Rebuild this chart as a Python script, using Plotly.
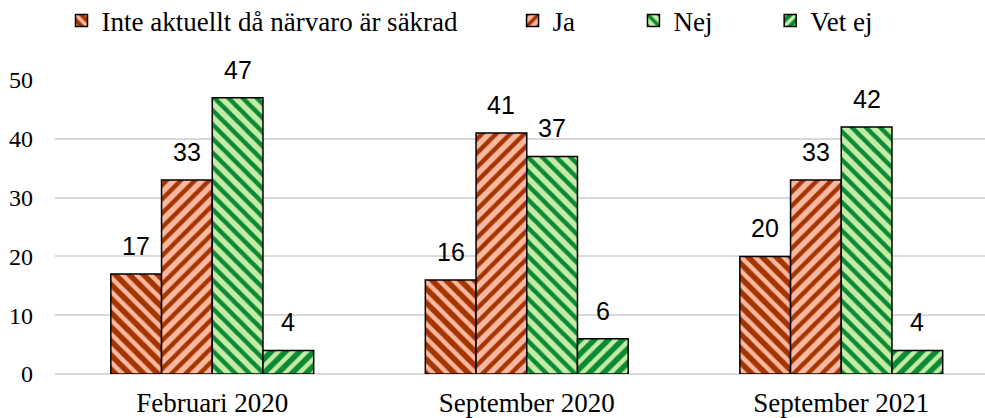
import plotly.graph_objects as go

categories = ["Februari 2020", "September 2020", "September 2021"]
series_names = ["Inte aktuellt då närvaro är säkrad", "Ja", "Nej", "Vet ej"]
inte_aktuellt = [17, 16, 20]
ja = [33, 41, 33]
nej = [47, 37, 42]
vet_ej = [4, 6, 4]
y_ticks = [0, 10, 20, 30, 40, 50]

DARK_RED = "#A33500"
SALMON = "#FBB8A0"
LIGHT_GREEN = "#C6EBA5"
DARK_GREEN = "#0B8A35"
SERIF = "Liberation Serif"

# (background, stripes, direction)
styles = [
    (DARK_RED, SALMON, "\\"),
    (SALMON, DARK_RED, "/"),
    (LIGHT_GREEN, DARK_GREEN, "\\"),
    (DARK_GREEN, LIGHT_GREEN, "/"),
]
# one legend per series so each entry can sit where the reference has it
legend_ids = ["legend", "legend2", "legend3", "legend4"]
legend_x = [0.007, 0.492, 0.622, 0.769]

W, H = 985, 418
M_L, M_R, M_T, M_B = 55, 0, 80, 44
BARGAP = 0.355
X_RANGE = [-0.5, 2.457]

fig = go.Figure()
all_vals = [inte_aktuellt, ja, nej, vet_ej]
for name, vals, (bg, fg, shape), lg in zip(series_names, all_vals, styles, legend_ids):
    fig.add_trace(go.Bar(
        x=categories,
        y=vals,
        name=name,
        legend=lg,
        marker=dict(
            color=bg,
            line=dict(color="black", width=1.5),
            pattern=dict(shape=shape, bgcolor=bg, fgcolor=fg, fgopacity=1,
                         size=10, solidity=0.45, fillmode="replace"),
        ),
        cliponaxis=False,
    ))

# value labels above the bars
cat_px = (W - M_L - M_R) / (X_RANGE[1] - X_RANGE[0])
bar_px = cat_px * (1 - BARGAP) / len(all_vals)
for i, vals in enumerate(all_vals):
    for cat, v in zip(categories, vals):
        fig.add_annotation(
            x=cat, y=v, text=str(v), showarrow=False,
            xanchor="center", yanchor="bottom",
            xshift=(i - 1.5) * bar_px, yshift=12,
            font=dict(family="Arial, Liberation Sans", size=25, color="black"),
        )

legend_style = dict(
    orientation="h",
    xanchor="left",
    yref="container", y=0.95, yanchor="middle",
    font=dict(family=SERIF, size=27, color="black"),
    itemwidth=30,
)

fig.update_layout(
    width=W, height=H,
    margin=dict(l=M_L, r=M_R, t=M_T, b=M_B),
    paper_bgcolor="white",
    plot_bgcolor="white",
    barmode="group",
    bargap=BARGAP,
    bargroupgap=0,
    font=dict(family=SERIF, size=27, color="black"),
    showlegend=True,
    **{lg: dict(x=lx, **legend_style) for lg, lx in zip(legend_ids, legend_x)},
)
fig.update_xaxes(range=X_RANGE, showline=False, ticks="", automargin=False,
                 ticklabelstandoff=10, tickfont=dict(family=SERIF, size=27))
fig.update_yaxes(range=[0, 50], tickvals=y_ticks, showgrid=True, gridcolor="#D9D9D9",
                 gridwidth=1.5, zeroline=True, zerolinecolor="#D9D9D9", zerolinewidth=1.5,
                 ticks="", ticklabelstandoff=21, automargin=False,
                 tickfont=dict(family=SERIF, size=24))

# drop the default 8px body margin so the figure fills the window
fig.write_html("out.html", config={"displayModeBar": False},
               post_script="document.body.style.margin = '0';")
